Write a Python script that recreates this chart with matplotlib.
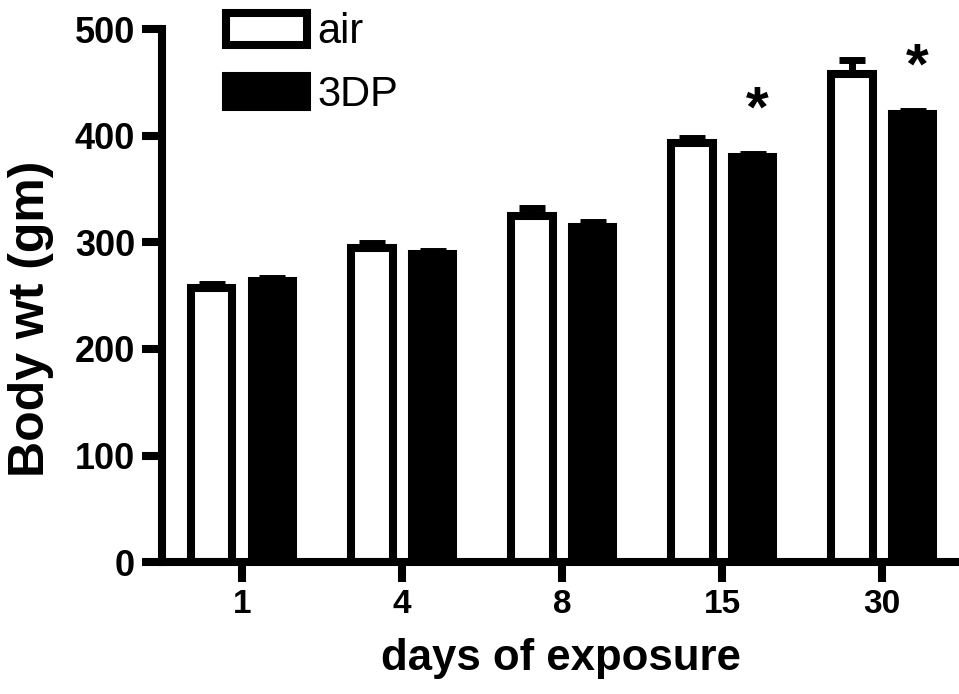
import numpy as np
from matplotlib import pyplot as plt

# Creating dataset
days = ['1', '4', '8', '15', '30']
air = [257, 295, 325, 393, 458]
air_err = [4, 4, 7, 5, 13]
dp3 = [264, 289, 314, 380, 420]
dp3_err = [3, 3, 5, 3, 3]
signif = [False, False, False, True, True]

plt.rcParams['font.family'] = ['Liberation Sans', 'DejaVu Sans']

# Creating plot
fig = plt.figure(figsize=(9.59, 6.94), dpi=100)
ax = fig.add_axes([0.169, 0.190, 0.831, 0.768])

x = np.arange(len(days))
w = 0.26
off = 0.19
lw = 5.8

b1 = ax.bar(x - off, air, w, color='white', edgecolor='black', linewidth=lw,
            label='air', zorder=2)
b2 = ax.bar(x + off, dp3, w, color='black', edgecolor='black', linewidth=lw,
            label='3DP', zorder=2)
ax.errorbar(x - off, air, yerr=[np.zeros(len(air)), air_err], fmt='none',
            ecolor='black', elinewidth=5, capsize=9.7, capthick=5, zorder=3)
ax.errorbar(x + off, dp3, yerr=[np.zeros(len(dp3)), dp3_err], fmt='none',
            ecolor='black', elinewidth=5, capsize=9.7, capthick=5, zorder=3)

for i in range(len(days)):
    if signif[i]:
        ax.text(x[i] + off + 0.03, dp3[i] + dp3_err[i] + 26, '*', ha='center',
                va='baseline', fontsize=42, fontweight='bold')

ax.set_xlim(-0.5, 4.48)
ax.set_ylim(0, 500)
ax.set_xticks(x)
ax.set_xticklabels(days)
ax.set_yticks([0, 100, 200, 300, 400, 500])
for s in ['top', 'right']:
    ax.spines[s].set_visible(False)
for s in ['left', 'bottom']:
    ax.spines[s].set_linewidth(lw)
    ax.spines[s].set_zorder(4)
ax.tick_params(axis='both', length=14.4, width=lw, pad=5)
ax.tick_params(axis='y', labelsize=26)
ax.tick_params(axis='x', labelsize=24)
for t in ax.get_xticklabels() + ax.get_yticklabels():
    t.set_fontweight('bold')

ax.set_xlabel('days of exposure', fontsize=31.5, fontweight='bold', labelpad=13)
fig.text(31 / 959, 1 - 319 / 694, 'Body wt (gm)', rotation=90, ha='center',
         va='center', fontsize=36, fontweight='bold')

ax.legend(handles=[b1, b2], loc='upper left', bbox_to_anchor=(0.08, 1.032),
          frameon=False, fontsize=30, handlelength=1.95, handleheight=0.8,
          handletextpad=0.25, labelspacing=0.55, borderpad=0, borderaxespad=0)

# save plot
fig.savefig('out.png', dpi=100)
plt.close()
